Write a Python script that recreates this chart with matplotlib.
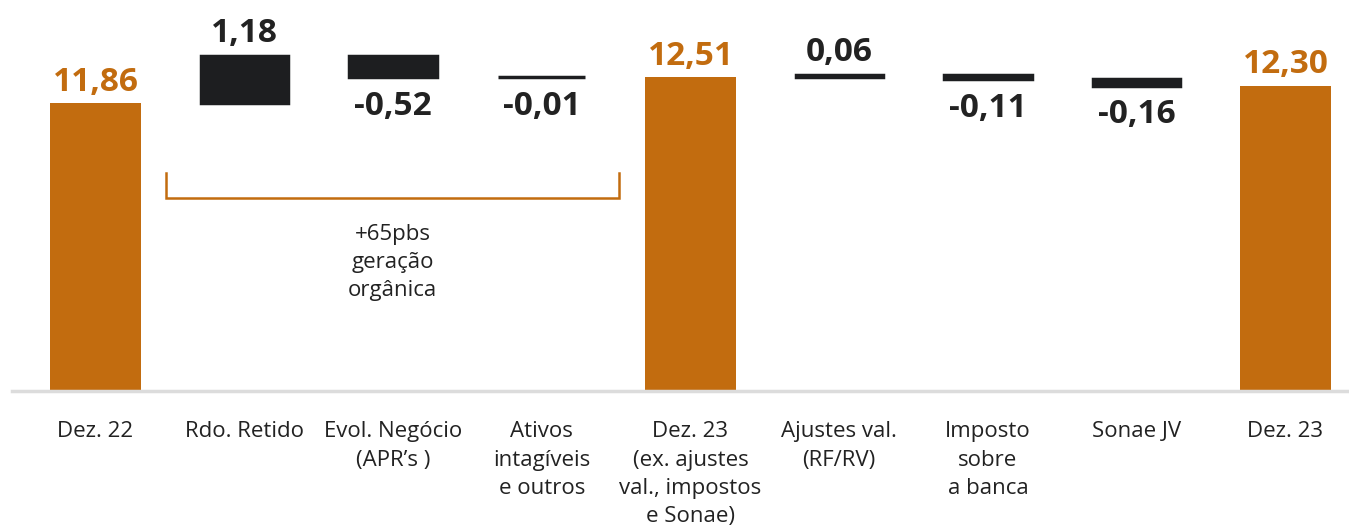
import matplotlib.pyplot as plt

plt.rcParams['font.family'] = ['Open Sans', 'DejaVu Sans']

categories = ['Dez. 22', 'Rdo. Retido', 'Evol. Negócio\n(APR’s )', 'Ativos\nintagíveis\ne outros',
              'Dez. 23\n(ex. ajustes\nval., impostos\ne Sonae)', 'Ajustes val.\n(RF/RV)',
              'Imposto\nsobre\na banca', 'Sonae JV', 'Dez. 23']
values = [11.86, 1.18, -0.52, -0.01, 12.51, 0.06, -0.11, -0.16, 12.30]
is_total = [True, False, False, False, True, False, False, False, True]

bracket_first, bracket_last = 1, 3
bracket_text = '+65pbs\ngeração\norgânica'

orange = '#c26c0f'
dark = '#1d1e20'
text_col = '#222222'
y_min, y_max = 4.65, 14.45

fig = plt.figure(figsize=(13.49, 5.26), dpi=100)
ax = fig.add_axes([0, 135 / 526, 1, 391 / 526])
ax.set_xlim(-0.642, 8.427)
ax.set_ylim(y_min, y_max)
ax.axis('off')

running = 0
for i, v in enumerate(values):
    label = f'{v:.2f}'.replace('.', ',')
    if is_total[i]:
        running = v
        ax.bar(i, v - y_min, bottom=y_min, width=0.61, color=orange, zorder=2)
        ax.annotate(label, (i, v), xytext=(0, 9), textcoords='offset points',
                    ha='center', va='baseline', fontsize=24, fontweight='bold', color=orange)
    else:
        start = running
        running = start + v
        ax.bar(i, v, bottom=start, width=0.588, color=dark, edgecolor=dark,
               linewidth=2.5, zorder=2)
        if v > 0:
            ax.annotate(label, (i, running), xytext=(0, 10), textcoords='offset points',
                        ha='center', va='baseline', fontsize=24, fontweight='bold', color=text_col)
        else:
            ax.annotate(label, (i, running), xytext=(0, -9), textcoords='offset points',
                        ha='center', va='top', fontsize=24, fontweight='bold', color=text_col)

# baseline
ax.axhline(y_min, xmin=12 / 1349, xmax=1, color='#dcdcdc', lw=2.5, zorder=3, clip_on=False)

# category labels
xt = ax.get_xaxis_transform()
for i, c in enumerate(categories):
    ax.text(i, -0.078, c, transform=xt, ha='center', va='top', fontsize=16,
            color=text_col, linespacing=1.45, multialignment='center')

# bracket for organic generation
x1, x2 = bracket_first - 0.526, bracket_last + 0.52
ax.plot([x1, x1, x2, x2], [0.558, 0.494, 0.494, 0.558], transform=xt,
        color=orange, lw=1.8, solid_joinstyle='miter', clip_on=False)
ax.text((x1 + x2) / 2, 0.428, bracket_text, transform=xt, ha='center', va='top',
        fontsize=16, color=text_col, linespacing=1.45)

fig.savefig('out.png', dpi=100)
